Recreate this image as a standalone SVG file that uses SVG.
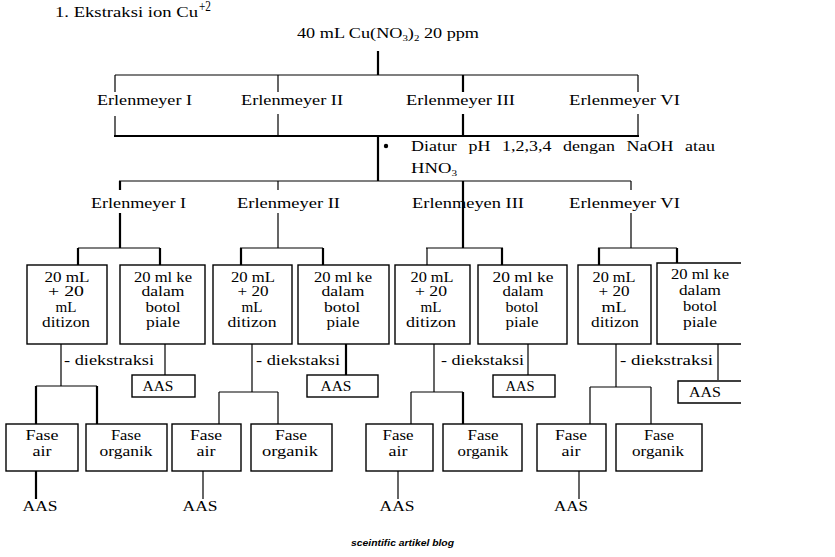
<svg xmlns="http://www.w3.org/2000/svg" width="835" height="557" viewBox="0 0 835 557">
<style>
text{font-family:"Liberation Serif","Times New Roman",serif;fill:#000;font-size:14px}
.m{text-anchor:middle}
.t{font-size:15px}
.ln{stroke:#000;stroke-width:1.2;fill:none}
.th{stroke:#000;stroke-width:2.2;fill:none}
.box{fill:#fff;stroke:#000;stroke-width:1.4}
.foot{font-family:"Liberation Sans",Arial,sans-serif;font-style:italic;font-weight:bold;font-size:9.5px}
</style>
<rect width="835" height="557" fill="#fff"/>
<g id="title">
<text x="55" y="17" class="t" textLength="143" lengthAdjust="spacingAndGlyphs">1. Ekstraksi ion Cu</text>
<text x="199" y="11" font-size="7" textLength="12" lengthAdjust="spacingAndGlyphs">+2</text>
</g>
<g id="source"><text x="297" y="38" class="t" textLength="182" lengthAdjust="spacingAndGlyphs">40 mL Cu(NO<tspan font-size="9" dy="3">3</tspan><tspan dy="-3">)</tspan><tspan font-size="9" dy="3">2</tspan><tspan dy="-3"> 20 ppm</tspan></text></g>
<g id="connectors">
<path class="th" d="M378 51V75M378 136V181"/>
<path class="ln" d="M115 75H638M115 75V92M115 116V136M278 75V92M278 114V136"/>
<path class="th" d="M463 75V92M463 114V136M114 136H639"/>
<path class="ln" stroke-width="1.6" d="M638 75V92M638 114V136"/>
<path class="ln" d="M119 181H631M278 181V190M278 213V248M631 181V190M631 213V248"/>
<path class="th" d="M120 181V190M120 213V248M463 181V248"/>
<path class="ln" d="M78 248H160M240 248H323M426 248H503M598 248H677"/>
<path class="th" d="M78 248V265M160 248V265M241 248V265M323 248V265M502 248V265M599 248V265M677 248V263"/>
<path class="ln" d="M427 248V265"/>
<path class="ln" d="M61 344V386M36 386H97M252 344V392M219 392H278M219 392V424M278 392V424M434 344V392M411 392H463M411 392V424M616 344V387M590 387H651M590 387V424M651 387V424"/>
<path class="th" d="M36 386V424M97 386V424M463 392V424"/>
<path class="ln" d="M165 344V375M528 344V375M718 344V380"/>
<path class="th" d="M346 344V375"/>
<path class="th" d="M36 471V499"/>
<path class="ln" d="M203 471V499M398 471V499M579 471V499"/>
</g>
<g id="erlenmeyer-top">
<text x="97" y="105" textLength="95" lengthAdjust="spacingAndGlyphs">Erlenmeyer I</text>
<text x="241" y="105" textLength="102" lengthAdjust="spacingAndGlyphs">Erlenmeyer II</text>
<text x="406" y="105" textLength="109" lengthAdjust="spacingAndGlyphs">Erlenmeyer III</text>
<text x="569" y="105" textLength="111" lengthAdjust="spacingAndGlyphs">Erlenmeyer VI</text>
</g>
<g id="note">
<circle cx="386" cy="146" r="2.2"/>
<text x="411" y="151" class="t" word-spacing="6" textLength="304" lengthAdjust="spacingAndGlyphs">Diatur pH 1,2,3,4 dengan NaOH atau</text>
<text x="411" y="173" class="t" textLength="46" lengthAdjust="spacingAndGlyphs">HNO<tspan font-size="9" dy="3">3</tspan></text>
</g>
<g id="erlenmeyer-ph">
<text x="91" y="208" textLength="95" lengthAdjust="spacingAndGlyphs">Erlenmeyer I</text>
<text x="237" y="208" textLength="103" lengthAdjust="spacingAndGlyphs">Erlenmeyer II</text>
<text x="412" y="208" textLength="112" lengthAdjust="spacingAndGlyphs">Erlenmeyen III</text>
<text x="569" y="208" textLength="111" lengthAdjust="spacingAndGlyphs">Erlenmeyer VI</text>
</g>
<g id="col1">
<rect class="box" x="27" y="265" width="80" height="79"/>
<text class="m" x="67" y="282" textLength="45" lengthAdjust="spacingAndGlyphs">20 mL</text>
<text class="m" x="66" y="296" textLength="36" lengthAdjust="spacingAndGlyphs">+ 20</text>
<text class="m" x="66" y="312" textLength="21" lengthAdjust="spacingAndGlyphs">mL</text>
<text class="m" x="66" y="327" textLength="48" lengthAdjust="spacingAndGlyphs">ditizon</text>
<rect class="box" x="120" y="265" width="85" height="79" stroke-width="2"/>
<text class="m" x="163" y="282" textLength="58" lengthAdjust="spacingAndGlyphs">20 ml ke</text>
<text class="m" x="163" y="296" textLength="43" lengthAdjust="spacingAndGlyphs">dalam</text>
<text class="m" x="163" y="312" textLength="35" lengthAdjust="spacingAndGlyphs">botol</text>
<text class="m" x="163" y="327" textLength="34" lengthAdjust="spacingAndGlyphs">piale</text>
<text x="64" y="365" class="t" textLength="90" lengthAdjust="spacingAndGlyphs">- diekstraksi</text>
<rect class="box" x="132" y="375" width="63" height="22" stroke-width="2"/>
<text class="m" x="158" y="391" textLength="31" lengthAdjust="spacingAndGlyphs">AAS</text>
<rect class="box" x="6" y="424" width="72" height="47"/>
<text class="m" x="42" y="440" textLength="33" lengthAdjust="spacingAndGlyphs">Fase</text>
<text class="m" x="42" y="456" textLength="19" lengthAdjust="spacingAndGlyphs">air</text>
<rect class="box" x="86" y="424" width="81" height="47" stroke-width="1.8"/>
<text class="m" x="126" y="440" textLength="30" lengthAdjust="spacingAndGlyphs">Fase</text>
<text class="m" x="126" y="456" textLength="53" lengthAdjust="spacingAndGlyphs">organik</text>
<text class="m" x="40" y="511" textLength="35" lengthAdjust="spacingAndGlyphs">AAS</text>
</g>
<g id="col2">
<rect class="box" x="213" y="265" width="79" height="79"/>
<text class="m" x="253" y="282" textLength="44" lengthAdjust="spacingAndGlyphs">20 mL</text>
<text class="m" x="253" y="296" textLength="31" lengthAdjust="spacingAndGlyphs">+ 20</text>
<text class="m" x="252" y="312" textLength="21" lengthAdjust="spacingAndGlyphs">mL</text>
<text class="m" x="252" y="327" textLength="49" lengthAdjust="spacingAndGlyphs">ditizon</text>
<rect class="box" x="298" y="265" width="91" height="79" stroke-width="1.8"/>
<text class="m" x="343" y="282" textLength="58" lengthAdjust="spacingAndGlyphs">20 ml ke</text>
<text class="m" x="343" y="296" textLength="43" lengthAdjust="spacingAndGlyphs">dalam</text>
<text class="m" x="342" y="312" textLength="36" lengthAdjust="spacingAndGlyphs">botol</text>
<text class="m" x="343" y="327" textLength="33" lengthAdjust="spacingAndGlyphs">piale</text>
<text x="256" y="365" class="t" textLength="84" lengthAdjust="spacingAndGlyphs">- diekstaksi</text>
<rect class="box" x="307" y="375" width="71" height="22" stroke-width="2"/>
<text class="m" x="336" y="391" textLength="31" lengthAdjust="spacingAndGlyphs">AAS</text>
<rect class="box" x="172" y="424" width="69" height="47"/>
<text class="m" x="206" y="440" textLength="32" lengthAdjust="spacingAndGlyphs">Fase</text>
<text class="m" x="206" y="456" textLength="19" lengthAdjust="spacingAndGlyphs">air</text>
<rect class="box" x="251" y="424" width="81" height="47"/>
<text class="m" x="291" y="440" textLength="32" lengthAdjust="spacingAndGlyphs">Fase</text>
<text class="m" x="290" y="456" textLength="56" lengthAdjust="spacingAndGlyphs">organik</text>
<text class="m" x="200" y="511" textLength="35" lengthAdjust="spacingAndGlyphs">AAS</text>
</g>
<g id="col3">
<rect class="box" x="395" y="265" width="75" height="79"/>
<text class="m" x="432" y="282" textLength="43" lengthAdjust="spacingAndGlyphs">20 mL</text>
<text class="m" x="431" y="296" textLength="32" lengthAdjust="spacingAndGlyphs">+ 20</text>
<text class="m" x="431" y="312" textLength="21" lengthAdjust="spacingAndGlyphs">mL</text>
<text class="m" x="431" y="327" textLength="50" lengthAdjust="spacingAndGlyphs">ditizon</text>
<rect class="box" x="478" y="265" width="89" height="79" stroke-width="1.8"/>
<text class="m" x="523" y="282" textLength="61" lengthAdjust="spacingAndGlyphs">20 ml ke</text>
<text class="m" x="523" y="296" textLength="41" lengthAdjust="spacingAndGlyphs">dalam</text>
<text class="m" x="522" y="312" textLength="33" lengthAdjust="spacingAndGlyphs">botol</text>
<text class="m" x="522" y="327" textLength="33" lengthAdjust="spacingAndGlyphs">piale</text>
<text x="441" y="365" class="t" textLength="83" lengthAdjust="spacingAndGlyphs">- diekstaksi</text>
<rect class="box" x="493" y="375" width="62" height="22"/>
<text class="m" x="520" y="391" textLength="29" lengthAdjust="spacingAndGlyphs">AAS</text>
<rect class="box" x="366" y="424" width="67" height="47"/>
<text class="m" x="398" y="440" textLength="31" lengthAdjust="spacingAndGlyphs">Fase</text>
<text class="m" x="398" y="456" textLength="19" lengthAdjust="spacingAndGlyphs">air</text>
<rect class="box" x="443" y="424" width="79" height="47" stroke-width="1.6"/>
<text class="m" x="483" y="440" textLength="31" lengthAdjust="spacingAndGlyphs">Fase</text>
<text class="m" x="483" y="456" textLength="51" lengthAdjust="spacingAndGlyphs">organik</text>
<text class="m" x="397" y="511" textLength="35" lengthAdjust="spacingAndGlyphs">AAS</text>
</g>
<g id="col4">
<rect class="box" x="578" y="265" width="73" height="79"/>
<text class="m" x="614" y="282" textLength="43" lengthAdjust="spacingAndGlyphs">20 mL</text>
<text class="m" x="614" y="296" textLength="31" lengthAdjust="spacingAndGlyphs">+ 20</text>
<text class="m" x="614" y="312" textLength="25" lengthAdjust="spacingAndGlyphs">mL</text>
<text class="m" x="615" y="327" textLength="48" lengthAdjust="spacingAndGlyphs">ditizon</text>
<path class="box" stroke-width="2" d="M741 263H657V344H741"/>
<text class="m" x="700" y="279" textLength="58" lengthAdjust="spacingAndGlyphs">20 ml ke</text>
<text class="m" x="700" y="295" textLength="42" lengthAdjust="spacingAndGlyphs">dalam</text>
<text class="m" x="700" y="311" textLength="34" lengthAdjust="spacingAndGlyphs">botol</text>
<text class="m" x="700" y="327" textLength="34" lengthAdjust="spacingAndGlyphs">piale</text>
<text x="620" y="365" class="t" textLength="93" lengthAdjust="spacingAndGlyphs">- diekstraksi</text>
<path class="box" stroke-width="2" d="M741 381H678V403H741"/>
<text class="m" x="705" y="397" textLength="32" lengthAdjust="spacingAndGlyphs">AAS</text>
<rect class="box" x="537" y="424" width="69" height="47"/>
<text class="m" x="571" y="440" textLength="32" lengthAdjust="spacingAndGlyphs">Fase</text>
<text class="m" x="571" y="456" textLength="19" lengthAdjust="spacingAndGlyphs">air</text>
<rect class="box" x="616" y="424" width="86" height="47" stroke-width="1.6"/>
<text class="m" x="659" y="440" textLength="30" lengthAdjust="spacingAndGlyphs">Fase</text>
<text class="m" x="658" y="456" textLength="52" lengthAdjust="spacingAndGlyphs">organik</text>
<text class="m" x="571" y="511" textLength="34" lengthAdjust="spacingAndGlyphs">AAS</text>
</g>
<text class="foot" x="351" y="546" textLength="103" lengthAdjust="spacingAndGlyphs">sceintific artikel blog</text>
</svg>
